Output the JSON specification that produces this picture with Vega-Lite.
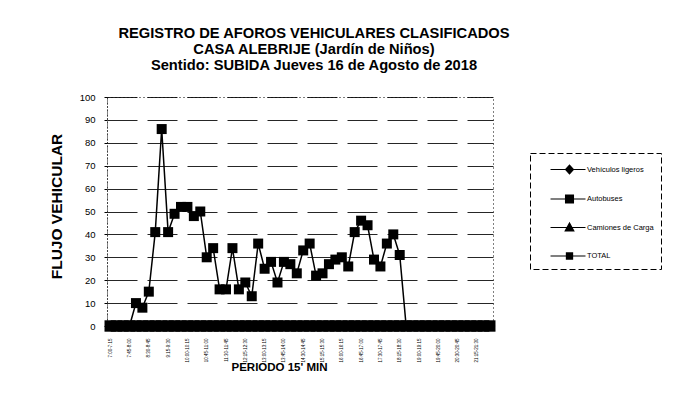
{
  "$schema": "https://vega.github.io/schema/vega-lite/v6.json",
  "width": 386,
  "height": 229,
  "autosize": "none",
  "padding": {"left": 107, "top": 97, "right": 189, "bottom": 85},
  "background": "white",
  "config": {
    "font": "Liberation Sans",
    "view": {"stroke": "#000", "strokeDash": [1, 3], "strokeWidth": 1}
  },
  "title": {
    "text": ["REGISTRO DE AFOROS VEHICULARES CLASIFICADOS", "CASA ALEBRIJE (Jardín de Niños)", "Sentido: SUBIDA  Jueves 16 de Agosto de 2018"],
    "fontSize": 14.7,
    "fontWeight": "bold",
    "font": "Liberation Sans",
    "color": "#000",
    "lineHeight": 16.3,
    "anchor": "middle",
    "dx": 14,
    "offset": 19
  },
  "data": {
    "values": [
      {"p": "7:00-7:15", "Vehículos ligeros": 0, "Autobuses": 0, "Camiones de Carga": 0, "TOTAL": 0},
      {"p": "7:15-7:30", "Vehículos ligeros": 0, "Autobuses": 0, "Camiones de Carga": 0, "TOTAL": 0},
      {"p": "7:30-7:45", "Vehículos ligeros": 0, "Autobuses": 0, "Camiones de Carga": 0, "TOTAL": 0},
      {"p": "7:45-8:00", "Vehículos ligeros": 0, "Autobuses": 0, "Camiones de Carga": 0, "TOTAL": 0},
      {"p": "8:00-8:15", "Vehículos ligeros": 0, "Autobuses": 0, "Camiones de Carga": 0, "TOTAL": 10},
      {"p": "8:15-8:30", "Vehículos ligeros": 0, "Autobuses": 0, "Camiones de Carga": 0, "TOTAL": 8},
      {"p": "8:30-8:45", "Vehículos ligeros": 0, "Autobuses": 0, "Camiones de Carga": 0, "TOTAL": 15},
      {"p": "8:45-9:00", "Vehículos ligeros": 0, "Autobuses": 0, "Camiones de Carga": 0, "TOTAL": 41},
      {"p": "9:00-9:15", "Vehículos ligeros": 0, "Autobuses": 0, "Camiones de Carga": 0, "TOTAL": 86},
      {"p": "9:15-9:30", "Vehículos ligeros": 0, "Autobuses": 0, "Camiones de Carga": 0, "TOTAL": 41},
      {"p": "9:30-9:45", "Vehículos ligeros": 0, "Autobuses": 0, "Camiones de Carga": 0, "TOTAL": 49},
      {"p": "9:45-10:00", "Vehículos ligeros": 0, "Autobuses": 0, "Camiones de Carga": 0, "TOTAL": 52},
      {"p": "10:00-10:15", "Vehículos ligeros": 0, "Autobuses": 0, "Camiones de Carga": 0, "TOTAL": 52},
      {"p": "10:15-10:30", "Vehículos ligeros": 0, "Autobuses": 0, "Camiones de Carga": 0, "TOTAL": 48},
      {"p": "10:30-10:45", "Vehículos ligeros": 0, "Autobuses": 0, "Camiones de Carga": 0, "TOTAL": 50},
      {"p": "10:45-11:00", "Vehículos ligeros": 0, "Autobuses": 0, "Camiones de Carga": 0, "TOTAL": 30},
      {"p": "11:00-11:15", "Vehículos ligeros": 0, "Autobuses": 0, "Camiones de Carga": 0, "TOTAL": 34},
      {"p": "11:15-11:30", "Vehículos ligeros": 0, "Autobuses": 0, "Camiones de Carga": 0, "TOTAL": 16},
      {"p": "11:30-11:45", "Vehículos ligeros": 0, "Autobuses": 0, "Camiones de Carga": 0, "TOTAL": 16},
      {"p": "11:45-12:00", "Vehículos ligeros": 0, "Autobuses": 0, "Camiones de Carga": 0, "TOTAL": 34},
      {"p": "12:00-12:15", "Vehículos ligeros": 0, "Autobuses": 0, "Camiones de Carga": 0, "TOTAL": 16},
      {"p": "12:15-12:30", "Vehículos ligeros": 0, "Autobuses": 0, "Camiones de Carga": 0, "TOTAL": 19},
      {"p": "12:30-12:45", "Vehículos ligeros": 0, "Autobuses": 0, "Camiones de Carga": 0, "TOTAL": 13},
      {"p": "12:45-13:00", "Vehículos ligeros": 0, "Autobuses": 0, "Camiones de Carga": 0, "TOTAL": 36},
      {"p": "13:00-13:15", "Vehículos ligeros": 0, "Autobuses": 0, "Camiones de Carga": 0, "TOTAL": 25},
      {"p": "13:15-13:30", "Vehículos ligeros": 0, "Autobuses": 0, "Camiones de Carga": 0, "TOTAL": 28},
      {"p": "13:30-13:45", "Vehículos ligeros": 0, "Autobuses": 0, "Camiones de Carga": 0, "TOTAL": 19},
      {"p": "13:45-14:00", "Vehículos ligeros": 0, "Autobuses": 0, "Camiones de Carga": 0, "TOTAL": 28},
      {"p": "14:00-14:15", "Vehículos ligeros": 0, "Autobuses": 0, "Camiones de Carga": 0, "TOTAL": 27},
      {"p": "14:15-14:30", "Vehículos ligeros": 0, "Autobuses": 0, "Camiones de Carga": 0, "TOTAL": 23},
      {"p": "14:30-14:45", "Vehículos ligeros": 0, "Autobuses": 0, "Camiones de Carga": 0, "TOTAL": 33},
      {"p": "14:45-15:00", "Vehículos ligeros": 0, "Autobuses": 0, "Camiones de Carga": 0, "TOTAL": 36},
      {"p": "15:00-15:15", "Vehículos ligeros": 0, "Autobuses": 0, "Camiones de Carga": 0, "TOTAL": 22},
      {"p": "15:15-15:30", "Vehículos ligeros": 0, "Autobuses": 0, "Camiones de Carga": 0, "TOTAL": 23},
      {"p": "15:30-15:45", "Vehículos ligeros": 0, "Autobuses": 0, "Camiones de Carga": 0, "TOTAL": 27},
      {"p": "15:45-16:00", "Vehículos ligeros": 0, "Autobuses": 0, "Camiones de Carga": 0, "TOTAL": 29},
      {"p": "16:00-16:15", "Vehículos ligeros": 0, "Autobuses": 0, "Camiones de Carga": 0, "TOTAL": 30},
      {"p": "16:15-16:30", "Vehículos ligeros": 0, "Autobuses": 0, "Camiones de Carga": 0, "TOTAL": 26},
      {"p": "16:30-16:45", "Vehículos ligeros": 0, "Autobuses": 0, "Camiones de Carga": 0, "TOTAL": 41},
      {"p": "16:45-17:00", "Vehículos ligeros": 0, "Autobuses": 0, "Camiones de Carga": 0, "TOTAL": 46},
      {"p": "17:00-17:15", "Vehículos ligeros": 0, "Autobuses": 0, "Camiones de Carga": 0, "TOTAL": 44},
      {"p": "17:15-17:30", "Vehículos ligeros": 0, "Autobuses": 0, "Camiones de Carga": 0, "TOTAL": 29},
      {"p": "17:30-17:45", "Vehículos ligeros": 0, "Autobuses": 0, "Camiones de Carga": 0, "TOTAL": 26},
      {"p": "17:45-18:00", "Vehículos ligeros": 0, "Autobuses": 0, "Camiones de Carga": 0, "TOTAL": 36},
      {"p": "18:00-18:15", "Vehículos ligeros": 0, "Autobuses": 0, "Camiones de Carga": 0, "TOTAL": 40},
      {"p": "18:15-18:30", "Vehículos ligeros": 0, "Autobuses": 0, "Camiones de Carga": 0, "TOTAL": 31},
      {"p": "18:30-18:45", "Vehículos ligeros": 0, "Autobuses": 0, "Camiones de Carga": 0, "TOTAL": 0},
      {"p": "18:45-19:00", "Vehículos ligeros": 0, "Autobuses": 0, "Camiones de Carga": 0, "TOTAL": 0},
      {"p": "19:00-19:15", "Vehículos ligeros": 0, "Autobuses": 0, "Camiones de Carga": 0, "TOTAL": 0},
      {"p": "19:15-19:30", "Vehículos ligeros": 0, "Autobuses": 0, "Camiones de Carga": 0, "TOTAL": 0},
      {"p": "19:30-19:45", "Vehículos ligeros": 0, "Autobuses": 0, "Camiones de Carga": 0, "TOTAL": 0},
      {"p": "19:45-20:00", "Vehículos ligeros": 0, "Autobuses": 0, "Camiones de Carga": 0, "TOTAL": 0},
      {"p": "20:00-20:15", "Vehículos ligeros": 0, "Autobuses": 0, "Camiones de Carga": 0, "TOTAL": 0},
      {"p": "20:15-20:30", "Vehículos ligeros": 0, "Autobuses": 0, "Camiones de Carga": 0, "TOTAL": 0},
      {"p": "20:30-20:45", "Vehículos ligeros": 0, "Autobuses": 0, "Camiones de Carga": 0, "TOTAL": 0},
      {"p": "20:45-21:00", "Vehículos ligeros": 0, "Autobuses": 0, "Camiones de Carga": 0, "TOTAL": 0},
      {"p": "21:00-21:15", "Vehículos ligeros": 0, "Autobuses": 0, "Camiones de Carga": 0, "TOTAL": 0},
      {"p": "21:15-21:30", "Vehículos ligeros": 0, "Autobuses": 0, "Camiones de Carga": 0, "TOTAL": 0},
      {"p": "21:30-21:45", "Vehículos ligeros": 0, "Autobuses": 0, "Camiones de Carga": 0, "TOTAL": 0},
      {"p": "21:45-22:00", "Vehículos ligeros": 0, "Autobuses": 0, "Camiones de Carga": 0, "TOTAL": 0}
    ]
  },
  "transform": [
    {"fold": ["Vehículos ligeros", "Autobuses", "Camiones de Carga", "TOTAL"], "as": ["serie", "valor"]}
  ],
  "encoding": {
    "x": {
      "field": "p",
      "type": "ordinal",
      "sort": null,
      "scale": {"type": "point", "padding": 0.5},
      "axis": {
        "title": "PERIODO 15' MIN",
        "titleFontSize": 11.5,
        "titleFontWeight": "bold",
        "titleColor": "#000",
        "titleX": 172,
        "titleY": 44,
        "titleBaseline": "alphabetic",
        "labelAngle": -90,
        "labelFontSize": 4.5,
        "labelColor": "#000",
        "labelPadding": 12,
        "labelOverlap": false,
        "ticks": false,
        "domain": false,
        "grid": false,
        "values": ["7:00-7:15", "7:45-8:00", "8:30-8:45", "9:15-9:30", "10:00-10:15", "10:45-11:00", "11:30-11:45", "12:15-12:30", "13:00-13:15", "13:45-14:00", "14:30-14:45", "15:15-15:30", "16:00-16:15", "16:45-17:00", "17:30-17:45", "18:15-18:30", "19:00-19:15", "19:45-20:00", "20:30-20:45", "21:15-21:30"]
      }
    },
    "y": {
      "field": "valor",
      "type": "quantitative",
      "scale": {"domain": [0, 100], "nice": false},
      "axis": {
        "title": "FLUJO VEHICULAR",
        "titleFontSize": 15.5,
        "titleFontWeight": "bold",
        "titleColor": "#000",
        "titleX": -46,
        "titleY": 109,
        "titleAngle": -90,
        "titleBaseline": "alphabetic",
        "values": [0, 10, 20, 30, 40, 50, 60, 70, 80, 90, 100],
        "labelFontSize": 9.5,
        "labelColor": "#000",
        "labelPadding": 9,
        "tickSize": 3,
        "tickColor": "#000",
        "domainColor": "#000",
        "domainDash": [1, 2],
        "gridColor": "#000",
        "gridDash": [30, 10],
        "gridWidth": 1,
        "gridOpacity": 0.85
      }
    }
  },
  "layer": [
    {
      "mark": {"type": "line", "strokeWidth": 1.5},
      "encoding": {
        "color": {
          "field": "serie",
          "type": "nominal",
          "scale": {"domain": ["Vehículos ligeros", "Autobuses", "Camiones de Carga", "TOTAL"], "range": ["#000", "#000", "#000", "#000"]},
          "legend": {
            "title": null,
            "orient": "none",
            "legendX": 423,
            "legendY": 56,
            "padding": 7,
            "strokeColor": "#000",
            "labelFontSize": 7.5,
            "labelColor": "#000",
            "labelOffset": 31,
            "rowPadding": 12.5,
            "symbolType": "M0.46,0H4.46M2.28,-0.35H2.98V0.35H2.28Z",
            "symbolSize": 306,
            "symbolStrokeWidth": 1.2,
            "symbolStrokeColor": "#000",
            "symbolFillColor": "#000",
            "encode": {
              "legend": {"update": {"strokeDash": {"value": [6, 3]}}},
              "symbols": {
                "update": {
                  "fill": {"value": "#000"},
                  "stroke": {"value": "#000"},
                  "shape": {"signal": "datum.value === 'TOTAL' ? 'M0.46,0H4.46M2.28,-0.35H2.98V0.35H2.28Z' : datum.value === 'Autobuses' ? 'M0.46,0H4.46M2.18,-0.45H3.08V0.45H2.18Z' : datum.value === 'Camiones de Carga' ? 'M0.46,0H4.46M2.63,-0.5L3.12,0.4H2.14Z' : 'M0.46,0H4.46M2.63,-0.5L3.08,0L2.63,0.5L2.18,0Z'"}
                }
              }
            }
          }
        }
      }
    },
    {
      "transform": [{"filter": "datum.serie === 'Vehículos ligeros'"}],
      "mark": {"type": "point", "filled": true, "opacity": 1, "color": "#000", "shape": "diamond", "size": 120}
    },
    {
      "transform": [{"filter": "datum.serie === 'Autobuses'"}],
      "mark": {"type": "point", "filled": true, "opacity": 1, "color": "#000", "shape": "square", "size": 130}
    },
    {
      "transform": [{"filter": "datum.serie === 'Camiones de Carga'"}],
      "mark": {"type": "point", "filled": true, "opacity": 1, "color": "#000", "shape": "triangle-up", "size": 120}
    },
    {
      "transform": [{"filter": "datum.serie === 'TOTAL'"}],
      "mark": {"type": "point", "filled": true, "opacity": 1, "color": "#000", "shape": "square", "size": 100}
    }
  ]
}
